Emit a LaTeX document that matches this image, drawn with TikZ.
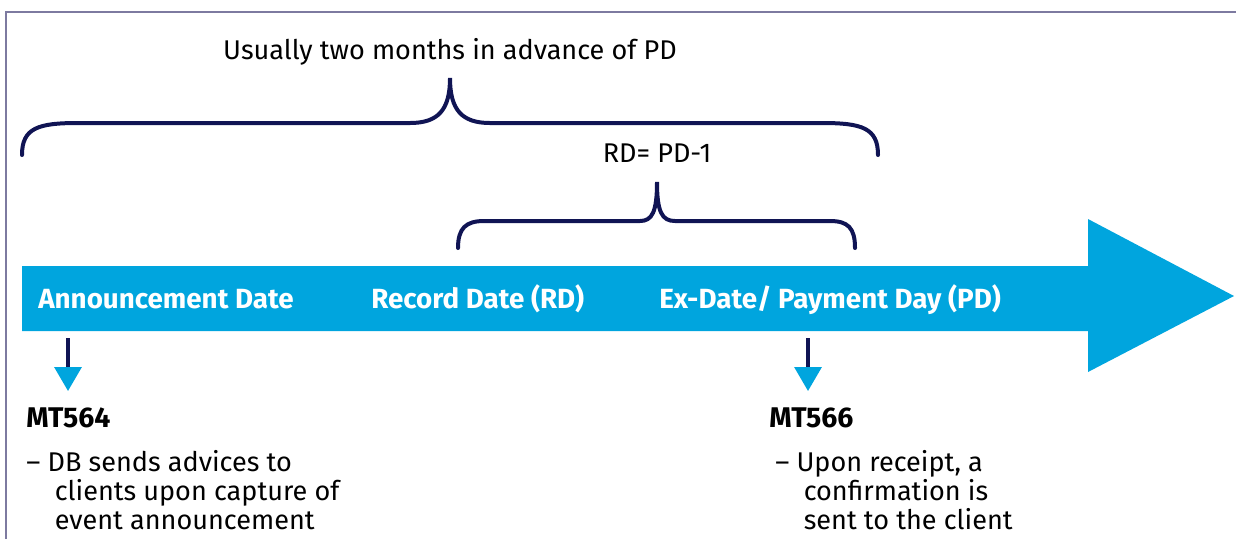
\documentclass[tikz,border=0pt]{standalone}
\usepackage{fontspec}
\setmainfont{Fira Sans}
\usepackage{tikz}
\usetikzlibrary{calc,arrows.meta}
\definecolor{dbcyan}{RGB}{0,165,222}
\definecolor{dbnavy}{RGB}{16,20,84}
\definecolor{dbframe}{RGB}{125,122,160}
\tikzset{
  brace/.style={draw=dbnavy,line width=0.08cm,line cap=round},
  bandlabel/.style={anchor=base west,inner sep=0pt,text=white,font=\fontsize{15.8}{17}\selectfont\bfseries},
  note/.style={anchor=base,inner sep=0pt,font=\fontsize{15.4}{17}\selectfont},
  msgtitle/.style={anchor=base west,inner sep=0pt,font=\fontsize{16.2}{17}\selectfont\bfseries},
  msgtext/.style={anchor=base west,inner sep=0pt,align=left,font=\fontsize{15.4}{16.5}\selectfont},
  msgarrow/.style={draw=dbnavy,line width=0.066cm,-{Triangle[width=0.54cm,length=0.48cm,color=dbcyan,fill=dbcyan]}}
}
\begin{document}
\begin{tikzpicture}[x=0.02cm,y=-0.02cm]
\useasboundingbox (0,0) rectangle (1236,539);
\draw[dbframe,line width=0.04cm] (6,539) -- (6,12) -- (1236,12);
\fill[dbcyan] (22,266) -- (1088,266) -- (1088,219) -- (1234,296) -- (1088,372) -- (1088,331) -- (22,331) -- cycle;
\draw[brace] (22,155) .. controls (22,128) and (38,123) .. (78,123) -- (410,123)
  .. controls (438,123) and (450,110) .. (450,78) .. controls (450,110) and (462,123) .. (490,123)
  -- (822,123) .. controls (862,123) and (878,128) .. (878,155);
\draw[brace] (458,248) .. controls (458,228) and (466,221) .. (484,221) -- (640,221)
  .. controls (652,221) and (657,212) .. (657,182) .. controls (657,212) and (662,221) .. (675,221)
  -- (830,221) .. controls (848,221) and (855,228) .. (855,248);
\node[note] (usual) at (450,59) {Usually two months in advance of PD};
\node[note] (rdpd) at (657,162) {RD= PD-1};
\node[bandlabel] (ann) at (38,308) {Announcement Date};
\node[bandlabel] (rec) at (371,308) {Record Date (RD)};
\node[bandlabel] (exd) at (659,308) {Ex-Date/ Payment Day (PD)};
\node[msgtitle] (mta) at (26,427) {MT564};
\node[msgtext] (txa) at (26,529) {– DB sends advices to\\\hspace*{1.05em}clients upon capture of\\\hspace*{1.05em}event announcement};
\node[msgtitle] (mtb) at (769,427) {MT566};
\node[msgtext] (txb) at (775,529) {– Upon receipt, a\\\hspace*{1.05em}confirmation is\\\hspace*{1.05em}sent to the client};
\coordinate (stema) at (68,338);
\coordinate (stemb) at (808,338);
\draw[msgarrow] (stema) -- (stema |- 0,391);
\draw[msgarrow] (stemb) -- (stemb |- 0,391);
\end{tikzpicture}
\end{document}
